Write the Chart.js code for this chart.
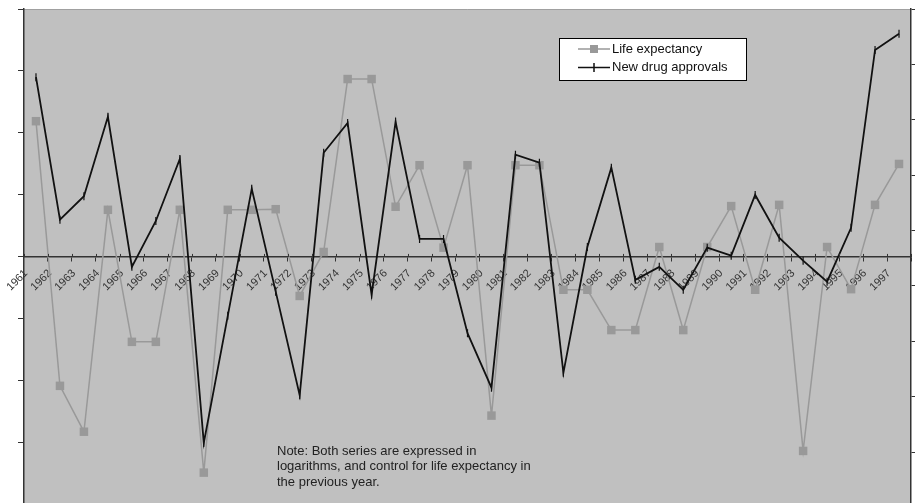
<!DOCTYPE html>
<html>
<head>
<meta charset="utf-8">
<script src="https://cdn.jsdelivr.net/npm/chart.js@4.4.0/dist/chart.umd.min.js"></script>
<style>
  html, body { margin: 0; padding: 0; background: #fff; }
  #wrap { width: 915px; height: 503px; position: relative; }
</style>
</head>
<body>
<div id="wrap"><canvas id="chart"></canvas></div>
<script>
const years = ['1961', '1962', '1963', '1964', '1965', '1966', '1967', '1968', '1969', '1970',
    '1971', '1972', '1973', '1974', '1975', '1976', '1977', '1978', '1979', '1980',
    '1981', '1982', '1983', '1984', '1985', '1986', '1987', '1988', '1989', '1990',
    '1991', '1992', '1993', '1994', '1995', '1996', '1997'];

const lifeExpectancy = [2.19, -2.08, -2.82, 0.76, -1.37, -1.37, 0.76, -3.48, 0.76, 0.76,
    0.77, -0.63, 0.08, 2.87, 2.87, 0.81, 1.48, 0.15, 1.48, -2.56,
    1.48, 1.48, -0.53, -0.53, -1.18, -1.18, 0.16, -1.18, 0.16, 0.82,
    -0.53, 0.84, -3.13, 0.16, -0.52, 0.84, 1.50];

const drugApprovals = [2.90, 0.60, 0.98, 2.26, -0.16, 0.58, 1.58, -3.00, -0.95, 1.10,
    -0.56, -2.23, 1.68, 2.16, -0.61, 2.18, 0.29, 0.29, -1.23, -2.11,
    1.65, 1.52, -1.87, 0.16, 1.44, -0.37, -0.16, -0.53, 0.15, 0.02,
    1.00, 0.31, -0.06, -0.40, 0.47, 3.34, 3.60];

const seriesNames = ['Life expectancy', 'New drug approvals'];

const noteLines = [
    'Note: Both series are expressed in',
    'logarithms, and control for life expectancy in',
    'the previous year.'
];

const FONT = '"Liberation Sans", Arial, sans-serif';
const LIFE_COLOR = '#999999';
const DRUG_COLOR = '#111111';

// gray plot background + thin top border
const plotBackground = {
    id: 'plotBackground',
    beforeDraw(chart) {
        const {ctx, chartArea: a} = chart;
        ctx.save();
        ctx.fillStyle = '#c0c0c0';
        ctx.fillRect(a.left, a.top, a.right - a.left, a.bottom - a.top);
        ctx.strokeStyle = '#a0a0a0';
        ctx.lineWidth = 1;
        ctx.beginPath();
        ctx.moveTo(a.left, a.top + 0.5);
        ctx.lineTo(a.right, a.top + 0.5);
        ctx.stroke();
        ctx.restore();
    }
};

// small marks above the zero line so the x ticks cross it
const crossTicks = {
    id: 'crossTicks',
    afterDraw(chart) {
        const x = chart.scales.x;
        const y0 = chart.scales.y.getPixelForValue(0);
        const half = (x.getPixelForValue(1) - x.getPixelForValue(0)) / 2;
        const ctx = chart.ctx;
        ctx.save();
        ctx.strokeStyle = '#333';
        ctx.lineWidth = 1;
        ctx.beginPath();
        for (let i = 0; i <= years.length; i++) {
            const px = Math.round(x.getPixelForValue(i) - half) + 0.5;
            ctx.moveTo(px, y0 - 3);
            ctx.lineTo(px, y0);
        }
        ctx.stroke();
        ctx.restore();
    }
};

// legend box inside the plot, and the note
const boxLegend = {
    id: 'boxLegend',
    afterDraw(chart) {
        const ctx = chart.ctx;
        ctx.save();
        ctx.fillStyle = '#fff';
        ctx.fillRect(559, 38, 187, 42);
        ctx.strokeStyle = '#000';
        ctx.lineWidth = 1;
        ctx.strokeRect(559.5, 38.5, 187, 42);

        ctx.font = '13px ' + FONT;
        ctx.textBaseline = 'middle';
        ctx.fillStyle = '#111';

        // life expectancy
        ctx.strokeStyle = LIFE_COLOR;
        ctx.lineWidth = 1.5;
        ctx.beginPath();
        ctx.moveTo(578, 49);
        ctx.lineTo(610, 49);
        ctx.stroke();
        ctx.fillStyle = LIFE_COLOR;
        ctx.fillRect(590, 45, 8, 8);
        ctx.fillStyle = '#111';
        ctx.fillText(seriesNames[0], 612, 49);

        // drug approvals
        ctx.strokeStyle = DRUG_COLOR;
        ctx.beginPath();
        ctx.moveTo(578, 67.5);
        ctx.lineTo(610, 67.5);
        ctx.moveTo(594, 63);
        ctx.lineTo(594, 72);
        ctx.stroke();
        ctx.fillText(seriesNames[1], 612, 67);

        ctx.fillStyle = '#222';
        ctx.font = '13px ' + FONT;
        noteLines.forEach((line, i) => ctx.fillText(line, 277, 451 + i * 15.5));
        ctx.restore();
    }
};

new Chart(document.getElementById('chart'), {
    type: 'line',
    data: {
        labels: years,
        datasets: [{
            label: seriesNames[0],
            data: lifeExpectancy,
            borderColor: LIFE_COLOR,
            backgroundColor: LIFE_COLOR,
            borderWidth: 1.5,
            pointStyle: 'rect',
            pointRadius: 6,
            pointBorderWidth: 0,
            tension: 0,
            order: 1
        }, {
            label: seriesNames[1],
            data: drugApprovals,
            borderColor: DRUG_COLOR,
            backgroundColor: DRUG_COLOR,
            borderWidth: 1.8,
            pointStyle: 'line',
            pointRotation: 90,
            pointRadius: 4,
            pointBorderWidth: 1.2,
            tension: 0,
            order: 0
        }]
    },
    options: {
        responsive: true,
        maintainAspectRatio: false,
        animation: false,
        layout: { autoPadding: false, padding: { top: 9, left: 0, right: 0, bottom: 0 } },
        plugins: {
            legend: { display: false },
            tooltip: { enabled: false }
        },
        scales: {
            x: {
                type: 'category',
                position: { y: 0 },
                offset: true,
                grid: { offset: true, drawOnChartArea: false, tickLength: 4, color: '#333', lineWidth: 1 },
                border: { color: '#333', width: 1.5 },
                ticks: {
                    autoSkip: false,
                    minRotation: 45,
                    maxRotation: 45,
                    labelOffset: -10,
                    padding: 6,
                    color: '#333',
                    font: { family: FONT, size: 11 }
                }
            },
            y: {
                position: 'left',
                min: -3.97,
                max: 4,
                ticks: { display: false, stepSize: 1, includeBounds: false },
                grid: { drawOnChartArea: false, tickLength: 6, color: '#333' },
                border: { color: '#333', width: 1.5 },
                afterFit: s => { s.width = 24; }
            },
            y2: {
                position: 'right',
                min: -0.92,
                max: 8,
                ticks: { display: false, stepSize: 1, includeBounds: false },
                grid: { drawOnChartArea: false, tickLength: 5, color: '#333' },
                border: { color: '#333', width: 1.5 },
                afterFit: s => { s.width = 4; }
            }
        }
    },
    plugins: [plotBackground, crossTicks, boxLegend]
});
</script>
</body>
</html>
